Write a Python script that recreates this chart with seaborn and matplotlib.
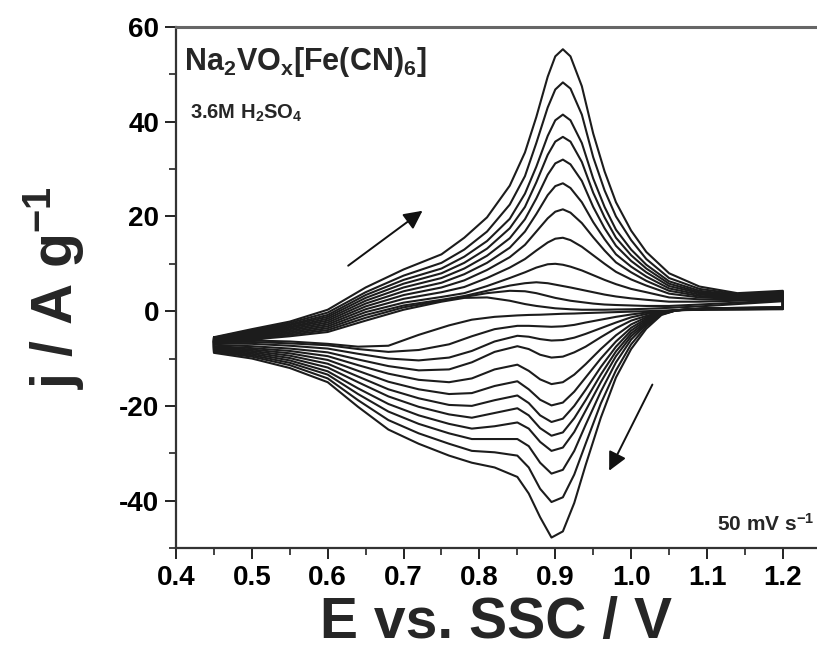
import numpy as np
import pandas as pd
import matplotlib
matplotlib.use("Agg")
import matplotlib.pyplot as plt
import seaborn as sns

# ---------------- data ----------------
# anodic sweep potentials (V)
E_anodic = [0.45, 0.50, 0.55, 0.60, 0.65, 0.70, 0.75, 0.78, 0.81, 0.84, 0.86, 0.875, 0.89,
            0.90, 0.91, 0.92, 0.935, 0.95, 0.965, 0.98, 1.00, 1.02, 1.05, 1.09, 1.14, 1.20]
# cathodic sweep potentials (V)
E_cathodic = [1.20, 1.15, 1.10, 1.06, 1.04, 1.02, 1.00, 0.98, 0.96, 0.94, 0.925, 0.91, 0.895,
              0.88, 0.865, 0.85, 0.82, 0.79, 0.76, 0.72, 0.68, 0.64, 0.60, 0.55, 0.50, 0.45]

# anodic current density (A/g), cycle 1 (smallest) ... cycle 12 (largest)
j_anodic_c1 = [-6.6, -6.0, -5.3, -4.4, -2.0, 0.3, 2.0, 2.8, 2.9, 2.2, 1.5, 1.1, 0.8, 0.6, 0.5, 0.4, 0.3, 0.3, 0.3, 0.35, 0.4, 0.5, 0.7, 1.0, 1.5, 2.1]
j_anodic_c2 = [-6.5, -5.8, -5.0, -4.0, -1.4, 0.8, 2.2, 3.0, 3.8, 4.3, 4.2, 3.8, 3.2, 2.8, 2.5, 2.2, 1.9, 1.6, 1.4, 1.3, 1.2, 1.1, 1.1, 1.4, 1.8, 2.3]
j_anodic_c3 = [-6.4, -5.6, -4.7, -3.6, -0.8, 1.2, 2.4, 3.2, 4.3, 5.4, 5.9, 6.1, 5.9, 5.6, 5.3, 5.0, 4.5, 4.0, 3.5, 3.1, 2.7, 2.4, 2.0, 2.0, 2.2, 2.5]
j_anodic_c4 = [-6.3, -5.4, -4.4, -3.2, -0.2, 1.8, 3.0, 3.8, 5.3, 7.0, 8.2, 9.2, 9.9, 10.0, 9.8, 9.4, 8.6, 7.6, 6.6, 5.7, 4.7, 4.0, 2.9, 2.5, 2.4, 2.7]
j_anodic_c5 = [-6.2, -5.2, -4.1, -2.8, 0.4, 2.6, 4.0, 5.1, 7.0, 9.2, 11.0, 12.8, 14.5, 15.3, 15.5, 15.0, 13.6, 11.8, 10.0, 8.3, 6.7, 5.4, 3.7, 2.9, 2.6, 2.9]
j_anodic_c6 = [-6.1, -5.0, -3.8, -2.4, 1.0, 3.4, 5.0, 6.5, 8.7, 11.4, 14.0, 16.8, 19.6, 21.0, 21.5, 20.8, 18.6, 15.6, 12.8, 10.3, 8.2, 6.4, 4.3, 3.2, 2.8, 3.1]
j_anodic_c7 = [-6.0, -4.8, -3.5, -2.0, 1.6, 4.2, 6.0, 7.8, 10.2, 13.4, 16.8, 20.5, 24.5, 26.4, 27.0, 26.0, 23.0, 18.8, 15.2, 12.0, 9.4, 7.3, 4.8, 3.5, 3.0, 3.3]
j_anodic_c8 = [-5.9, -4.6, -3.3, -1.6, 2.2, 5.0, 7.0, 9.0, 11.7, 15.4, 19.4, 23.8, 28.8, 31.2, 32.0, 31.0, 27.5, 22.0, 17.5, 13.8, 10.6, 8.2, 5.3, 3.8, 3.1, 3.5]
j_anodic_c9 = [-5.8, -4.4, -3.0, -1.2, 2.8, 5.8, 8.0, 10.2, 13.2, 17.5, 22.0, 27.2, 33.0, 35.8, 36.8, 35.8, 31.5, 25.0, 19.8, 15.5, 11.8, 9.0, 5.8, 4.0, 3.3, 3.7]
j_anodic_c10 = [-5.7, -4.2, -2.8, -0.8, 3.4, 6.6, 9.0, 11.5, 14.8, 19.5, 24.8, 30.5, 37.0, 40.3, 41.5, 40.3, 35.5, 28.0, 22.0, 17.2, 13.0, 9.8, 6.3, 4.3, 3.4, 3.9]
j_anodic_c11 = [-5.6, -4.0, -2.5, -0.3, 4.0, 7.5, 10.2, 13.0, 16.8, 22.5, 28.5, 35.5, 43.0, 46.8, 48.3, 47.0, 41.5, 32.5, 25.5, 20.0, 15.0, 11.0, 7.0, 4.7, 3.6, 4.1]
j_anodic_c12 = [-5.5, -3.8, -2.2, 0.3, 5.0, 8.8, 12.0, 15.5, 19.8, 26.5, 33.5, 41.0, 49.5, 53.8, 55.3, 53.8, 47.5, 37.5, 29.5, 23.0, 17.0, 12.5, 8.0, 5.2, 3.8, 4.3]

# cathodic current density (A/g)
j_cathodic_c1 = [0.4, 0.35, 0.3, 0.2, 0.1, 0.0, -0.1, -0.2, -0.3, -0.4, -0.5, -0.55, -0.65, -0.75, -0.8, -0.9, -1.2, -1.8, -3.0, -5.0, -7.3, -7.5, -6.9, -6.4, -6.2, -6.2]
j_cathodic_c2 = [0.5, 0.4, 0.35, 0.2, 0.0, -0.3, -0.7, -1.2, -1.8, -2.4, -2.9, -3.2, -3.3, -3.2, -3.1, -3.1, -3.8, -5.3, -7.0, -8.2, -8.6, -8.0, -7.2, -6.8, -6.5, -6.5]
j_cathodic_c3 = [0.5, 0.45, 0.4, 0.2, -0.1, -0.6, -1.3, -2.4, -3.6, -4.8, -5.6, -6.1, -6.2, -5.9, -5.4, -5.2, -6.4, -8.4, -9.8, -10.4, -10.0, -9.0, -7.9, -7.3, -6.9, -6.8]
j_cathodic_c4 = [0.6, 0.5, 0.45, 0.2, -0.2, -1.0, -2.0, -3.6, -5.5, -7.5, -8.7, -9.6, -9.8, -9.2, -8.0, -7.4, -8.6, -10.8, -12.3, -12.5, -11.6, -10.2, -8.7, -7.9, -7.4, -7.1]
j_cathodic_c5 = [0.6, 0.55, 0.5, 0.2, -0.25, -1.3, -2.8, -5.1, -8.0, -11.2, -13.4, -15.0, -15.4, -14.4, -12.6, -11.3, -12.3, -14.2, -15.0, -14.5, -13.2, -11.4, -9.5, -8.4, -7.8, -7.4]
j_cathodic_c6 = [0.7, 0.6, 0.5, 0.2, -0.3, -1.6, -3.5, -6.4, -10.0, -14.0, -17.0, -19.3, -19.9, -18.7, -16.5, -14.8, -15.8, -17.3, -17.5, -16.5, -14.9, -12.6, -10.3, -8.9, -8.1, -7.6]
j_cathodic_c7 = [0.7, 0.6, 0.55, 0.2, -0.35, -1.9, -4.1, -7.5, -11.8, -16.6, -20.0, -22.7, -23.4, -22.0, -19.4, -17.8, -18.8, -20.0, -19.8, -18.4, -16.5, -13.8, -11.1, -9.4, -8.4, -7.8]
j_cathodic_c8 = [0.7, 0.65, 0.55, 0.2, -0.4, -2.2, -4.7, -8.5, -13.4, -18.8, -22.6, -25.6, -26.3, -24.7, -22.0, -20.5, -21.5, -22.5, -21.8, -20.2, -18.0, -15.0, -11.9, -9.9, -8.7, -8.0]
j_cathodic_c9 = [0.8, 0.65, 0.6, 0.2, -0.5, -2.5, -5.3, -9.5, -15.0, -21.0, -25.5, -28.8, -29.5, -27.6, -24.8, -23.5, -24.3, -24.8, -23.8, -22.0, -19.6, -16.3, -12.7, -10.4, -9.0, -8.2]
j_cathodic_c10 = [0.8, 0.7, 0.6, 0.2, -0.6, -2.8, -6.0, -10.8, -17.0, -24.0, -29.5, -33.5, -34.3, -32.0, -28.5, -27.0, -27.0, -27.0, -25.8, -23.8, -21.2, -17.5, -13.4, -10.9, -9.3, -8.4]
j_cathodic_c11 = [0.8, 0.7, 0.6, 0.2, -0.7, -3.2, -7.0, -12.5, -19.5, -28.0, -34.5, -39.3, -40.3, -37.5, -33.0, -30.5, -29.8, -29.5, -28.0, -25.8, -23.0, -18.8, -14.2, -11.4, -9.6, -8.6]
j_cathodic_c12 = [0.8, 0.7, 0.6, 0.2, -0.8, -3.7, -8.0, -14.0, -22.5, -32.5, -40.5, -46.5, -47.8, -43.5, -38.5, -35.0, -33.0, -32.0, -30.5, -28.0, -25.0, -20.2, -15.0, -12.0, -10.0, -8.8]

anodic_cycles = [j_anodic_c1, j_anodic_c2, j_anodic_c3, j_anodic_c4, j_anodic_c5, j_anodic_c6,
                 j_anodic_c7, j_anodic_c8, j_anodic_c9, j_anodic_c10, j_anodic_c11, j_anodic_c12]
cathodic_cycles = [j_cathodic_c1, j_cathodic_c2, j_cathodic_c3, j_cathodic_c4, j_cathodic_c5, j_cathodic_c6,
                   j_cathodic_c7, j_cathodic_c8, j_cathodic_c9, j_cathodic_c10, j_cathodic_c11, j_cathodic_c12]

x_ticks = [0.4, 0.5, 0.6, 0.7, 0.8, 0.9, 1.0, 1.1, 1.2]
x_tick_labels = ["0.4", "0.5", "0.6", "0.7", "0.8", "0.9", "1.0", "1.1", "1.2"]
y_ticks = [-40, -20, 0, 20, 40, 60]
y_tick_labels = ["-40", "-20", "0", "20", "40", "60"]

# ---------------- build long table ----------------
rows = []
for ci, (ja, jc) in enumerate(zip(anodic_cycles, cathodic_cycles), start=1):
    for e, j in zip(E_anodic, ja):
        rows.append((ci, e, j))
    for e, j in zip(E_cathodic, jc):
        rows.append((ci, e, j))
    rows.append((ci, E_anodic[0], ja[0]))  # close the loop
df = pd.DataFrame(rows, columns=["cycle", "E", "j"])

# ---------------- style ----------------
sns.set_theme(style="ticks")
plt.rcParams["font.family"] = ["Liberation Sans", "DejaVu Sans"]
plt.rcParams["font.weight"] = "bold"
plt.rcParams["mathtext.fontset"] = "custom"
plt.rcParams["mathtext.rm"] = "Liberation Sans:bold"
plt.rcParams["mathtext.it"] = "Liberation Sans:bold"
plt.rcParams["mathtext.bf"] = "Liberation Sans:bold"

fig = plt.figure(figsize=(8.17, 6.63), dpi=100)
ax = fig.add_axes([0.2154, 0.1735, 0.7846, 0.7858])

sns.lineplot(data=df, x="E", y="j", units="cycle", estimator=None, sort=False,
             color="#1c1c1c", linewidth=1.5, ax=ax, legend=False)
for ln in ax.get_lines():
    ln.set_solid_joinstyle("round")

ax.set_xlim(0.4, 1.245)
ax.set_ylim(-50, 60)
ax.set_xticks(x_ticks)
ax.set_xticklabels(x_tick_labels)
ax.set_yticks(y_ticks)
ax.set_yticklabels(y_tick_labels)
ax.set_xticks(np.arange(0.45, 1.25, 0.1), minor=True)
ax.set_yticks(np.arange(-50, 60, 20), minor=True)
ax.tick_params(axis="both", which="major", direction="out", length=8, width=1.4,
               labelsize=20, colors="#222222", pad=4)
ax.tick_params(axis="both", which="minor", direction="out", length=5, width=1.2,
               colors="#222222")
for lab in ax.get_xticklabels() + ax.get_yticklabels():
    lab.set_fontweight("bold")
    lab.set_color("black")

ax.spines["right"].set_visible(False)
ax.spines["top"].set_color("#666666")
ax.spines["top"].set_linewidth(2.2)
ax.spines["left"].set_color("#333333")
ax.spines["left"].set_linewidth(1.6)
ax.spines["bottom"].set_color("#333333")
ax.spines["bottom"].set_linewidth(1.6)

ax.set_xlabel("E vs. SSC / V", fontsize=41, fontweight="bold", labelpad=4)
ax.set_ylabel(r"j / A g$^{-1}$", fontsize=41, fontweight="bold", labelpad=24)

ax.text(0.012, 0.965, r"Na$_2$VO$_\mathrm{x}$[Fe(CN)$_6$]", transform=ax.transAxes,
        fontsize=22, fontweight="bold", ha="left", va="top")
ax.text(0.022, 0.855, r"3.6M H$_2$SO$_4$", transform=ax.transAxes,
        fontsize=14.5, fontweight="bold", ha="left", va="top")
ax.text(0.995, 0.025, r"50 mV s$^{-1}$", transform=ax.transAxes,
        fontsize=15, fontweight="bold", ha="right", va="bottom")

arrow_kw = dict(arrowstyle="-|>", mutation_scale=28, lw=1.4, color="#111111",
                shrinkA=0, shrinkB=0)
ax.annotate("", xy=(0.725, 21.2), xytext=(0.627, 9.6), arrowprops=arrow_kw)
ax.annotate("", xy=(0.971, -33.7), xytext=(1.028, -15.5), arrowprops=arrow_kw)

fig.savefig("out.png", dpi=100)
